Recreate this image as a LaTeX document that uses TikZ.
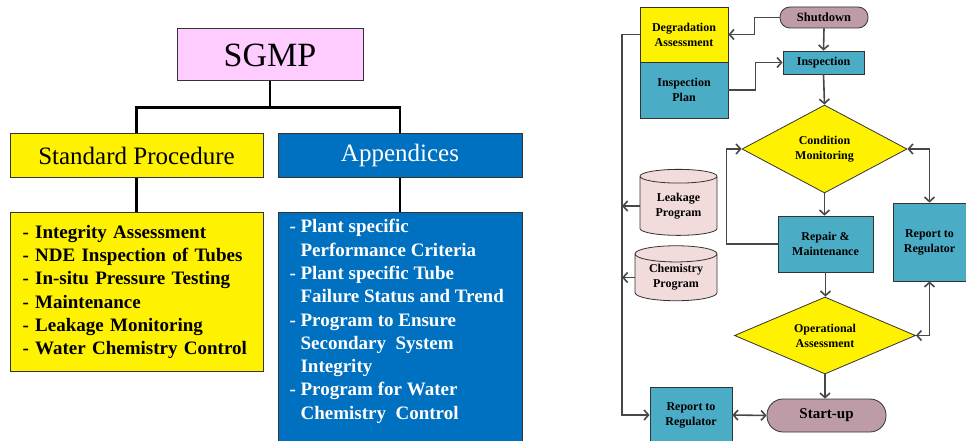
\documentclass[tikz,border=0pt]{standalone}
\usepackage{fontspec}
\setmainfont{Liberation Serif}
\usepackage{xcolor}
\usepackage{tikz}
\usetikzlibrary{arrows.meta}
\usetikzlibrary{shapes.geometric}
\definecolor{sgpink}{HTML}{FFCCFF}
\definecolor{sgblue}{HTML}{0070C0}
\definecolor{fteal}{HTML}{4BACC6}
\definecolor{fmauve}{HTML}{BE9CA7}
\definecolor{fcylpink}{HTML}{F2DCDB}
\colorlet{fline}{black!72}
\tikzstyle{hbox}=[draw=black!80, line width=1pt, inner sep=0pt]
\tikzstyle{tree}=[line width=2.6pt, black]
\tikzstyle{listtxt}=[font=\bfseries\fontsize{19}{23.3}\selectfont, align=left]
\tikzstyle{fbox}=[draw=black!80, line width=.8pt, fill=fteal, inner sep=0pt, align=center, font=\bfseries\fontsize{12}{15}\selectfont]
\tikzstyle{fterm}=[fbox, fill=fmauve]
\tikzstyle{fdec}=[fbox, diamond, aspect=2, fill=yellow]
\tikzstyle{fcyl}=[fbox, cylinder, shape border rotate=90, aspect=0.3, fill=fcylpink]
\tikzstyle{fl}=[line width=1.6pt, draw=fline, >={Straight Barb[length=4.5pt,width=10pt]}]
\begin{document}
\begin{tikzpicture}[x=1pt, y=-1pt]
\useasboundingbox (0,0) rectangle (966,441);
\node[hbox, fill=sgpink, minimum width=186pt, minimum height=52pt, font=\fontsize{34}{40}\selectfont] (sgmp) at (270,55) {SGMP};
\node[hbox, fill=yellow, minimum width=253pt, minimum height=43pt, font=\fontsize{25}{30}\selectfont] (std) at (136.5,155.5) {Standard Procedure};
\node[hbox, fill=sgblue, text=white, minimum width=244pt, minimum height=43pt, font=\fontsize{25}{30}\selectfont] (app) at (400,155.5) {Appendices};
\node[hbox, fill=yellow, listtxt, anchor=north west, text width=229pt, minimum height=159pt, inner xsep=12pt] (stdlist) at (10,212) {%
- Integrity Assessment\\
- NDE Inspection of Tubes\\
- In-situ Pressure Testing\\
- Maintenance\\
- Leakage Monitoring\\
- Water Chemistry Control};
\node[hbox, fill=sgblue, text=white, listtxt, anchor=north west, inner xsep=11pt, inner ysep=7pt] (applist) at (278,212) {\parbox[c][228pt][t]{222pt}{\raggedright
- Plant specific\\
\phantom{- }Performance Criteria\\
- Plant specific Tube\\
\phantom{- }Failure Status and Trend\\
- Program to Ensure\\
\phantom{- }Secondary~ System\\
\phantom{- }Integrity\\
- Program for Water\\
\phantom{- }Chemistry~ Control}};
\draw[tree] (sgmp.south) -- ++(0,26) -| (std.north);
\draw[tree] (sgmp.south) ++(0,26) -| (app.north);
\draw[tree] (std.south) -- (stdlist.north -| std.south);
\draw[tree] (app.south) -- (applist.north -| app.south);

\node[fbox, fill=yellow, minimum width=88pt, minimum height=55pt] (deg) at (684,34.5) {Degradation\\Assessment};
\node[fbox, minimum width=88pt, minimum height=56pt] (iplan) at (684,90) {Inspection\\Plan};
\node[fterm, rounded corners=10pt, minimum width=88pt, minimum height=21pt, font=\bfseries\fontsize{12.5}{15}\selectfont] (shut) at (824,17.5) {Shutdown};
\node[fbox, minimum width=81pt, minimum height=23pt] (insp) at (823.5,62.5) {Inspection};
\node[fdec, minimum width=165pt, minimum height=88pt] (cm) at (824.5,149) {Condition\\Monitoring};
\node[fbox, minimum width=95pt, minimum height=56pt] (rep) at (825.5,244) {Repair \&\\Maintenance};
\node[fbox, minimum width=73pt, minimum height=78pt] (reg) at (929.5,242) {Report to\\Regulator};
\node[fdec, minimum width=181pt, minimum height=77pt] (oa) at (825,335.5) {Operational\\Assessment};
\node[fterm, rounded corners=16pt, minimum width=119pt, minimum height=33pt, font=\bfseries\fontsize{15}{18}\selectfont] (start) at (826.5,415.5) {Start-up};
\node[fbox, minimum width=82pt, minimum height=56pt] (regb) at (691,415) {Report to\\Regulator};
\node[fcyl, minimum width=77pt, minimum height=66pt] (leak) at (678.5,206) {Leakage\\Program};
\node[fcyl, minimum width=82pt, minimum height=55pt] (chem) at (676,277.5) {Chemistry\\Program};
\coordinate (trunk) at (622,0);

\draw[fl,->] (shut.west) -- ++(-25,0) |- (deg.east);
\draw[fl,->] (shut.south) -- (insp.north);
\draw[fl,->] (iplan.east) -- ++(27,0) |- (insp.west);
\draw[fl,->] (insp.south) -- (cm.north);
\draw[fl,->] (cm.south) -- (cm.south |- rep.north);
\draw[fl,->] (rep.west) -- ++(-51,0) |- (cm.west);
\draw[fl,<->] (cm.east) -| (reg.north);
\draw[fl,->] (rep.south) -- (rep.south |- oa.north);
\draw[fl,<->] (reg.south) |- (oa.east);
\draw[fl,->] (oa.south) -- (oa.south |- start.north);
\draw[fl,<->] (regb.east) -- (start.west);
\draw[fl,->] (deg.west) -| (trunk |- regb.west) -- (regb.west);
\draw[fl,->] (leak.west) -- (leak.west -| trunk);
\draw[fl,->] (chem.west) -- (chem.west -| trunk);
\end{tikzpicture}
\end{document}
